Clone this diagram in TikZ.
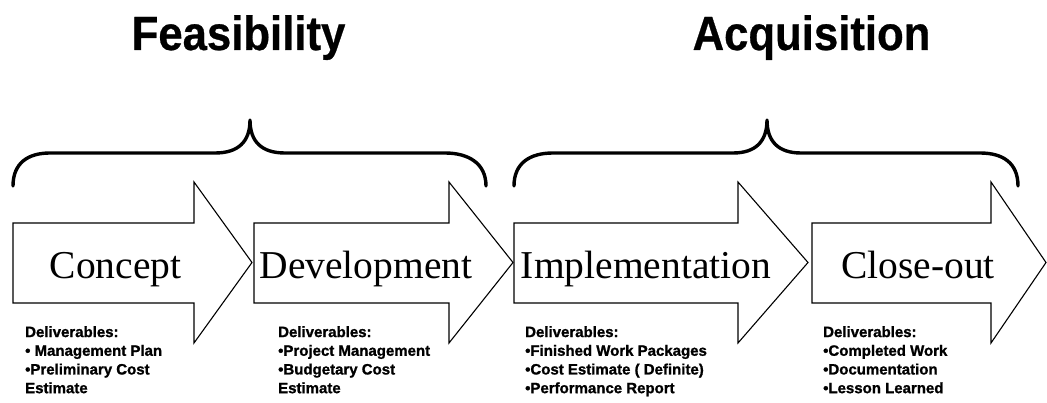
\documentclass[tikz,border=0pt]{standalone}
\usepackage{graphicx}
\usepackage{fontspec}
\setmainfont{Liberation Serif}
\newfontfamily\headsans{Liberation Sans}[BoldFeatures={FakeBold=0.6}]
\newfontfamily\delivsans{Liberation Sans}[BoldFeatures={FakeBold=1.2}]
% one phase arrow: left edge, start of the head, tip
\newcommand\phasearrow[3]{%
  \draw[phase] (#1,223) -- (#2,223) -- (#2,182) -- (#3,262.5)
    -- (#2,343) -- (#2,303) -- (#1,303) -- cycle;}
\begin{document}
\begin{tikzpicture}[x=1pt,y=-1pt,
  phase/.style={draw=black,fill=white,line width=1.1pt,line join=miter},
  brace/.style={draw=black,line width=3.4pt,line cap=round,line join=round},
  title/.style={font=\headsans\bfseries\fontsize{48}{48}\selectfont,inner sep=0pt,anchor=base},
  stage/.style={font=\fontsize{39.5}{39.5}\selectfont,inner sep=0pt,anchor=base},
  deliv/.style={font=\delivsans\bfseries\fontsize{15}{18.7}\selectfont,inner sep=0pt,anchor=north west,align=left}]
\useasboundingbox (0,0) rectangle (1047,403);

% headings
\node[title] (feas) at (238.5,50) {\scalebox{0.91}[1]{Feasibility}};
\node[title] (acq)  at (811.5,50) {\scalebox{0.91}[1]{Acquisition}};

% braces grouping the phases
\coordinate (feasL) at (13,186);  \coordinate (feasT) at (250,120); \coordinate (feasR) at (486,186);
\coordinate (acqL) at (514,186);  \coordinate (acqT) at (767,120);  \coordinate (acqR) at (1018,186);
\draw[brace] (feasL) .. controls (13,163) and (28,153) .. (50,153) -- (215,153)
  .. controls (238,153) and (250,142) .. (feasT)
  .. controls (250,142) and (262,153) .. (285,153) -- (445,153)
  .. controls (468,153) and (486,163) .. (feasR);
\draw[brace] (acqL) .. controls (514,163) and (530,153) .. (553,153) -- (733,153)
  .. controls (755,153) and (767,142) .. (acqT)
  .. controls (767,142) and (779,153) .. (801,153) -- (980,153)
  .. controls (1003,153) and (1018,163) .. (acqR);

% phase arrows
\phasearrow{13}{194}{252}
\phasearrow{254}{449}{513}
\phasearrow{514}{738}{808}
\phasearrow{812}{991}{1046}

\node[stage] (concept) at (115.5,279) {Concept};
\node[stage] (devel)   at (366,279)   {Development};
\node[stage] (impl)    at (646,279)   {Implementation};
\node[stage] (close)   at (918,279)   {Close-out};

% deliverables
\node[deliv] (d1) at (25,326)  {Deliverables:\\• Management Plan\\•Preliminary Cost\\Estimate};
\node[deliv] (d2) at (278,326) {Deliverables:\\•Project Management\\•Budgetary Cost\\Estimate};
\node[deliv] (d3) at (525,326) {Deliverables:\\•Finished Work Packages\\•Cost Estimate ( Definite)\\•Performance Report};
\node[deliv] (d4) at (823,326) {Deliverables:\\•Completed Work\\•Documentation\\•Lesson Learned};
\end{tikzpicture}
\end{document}
